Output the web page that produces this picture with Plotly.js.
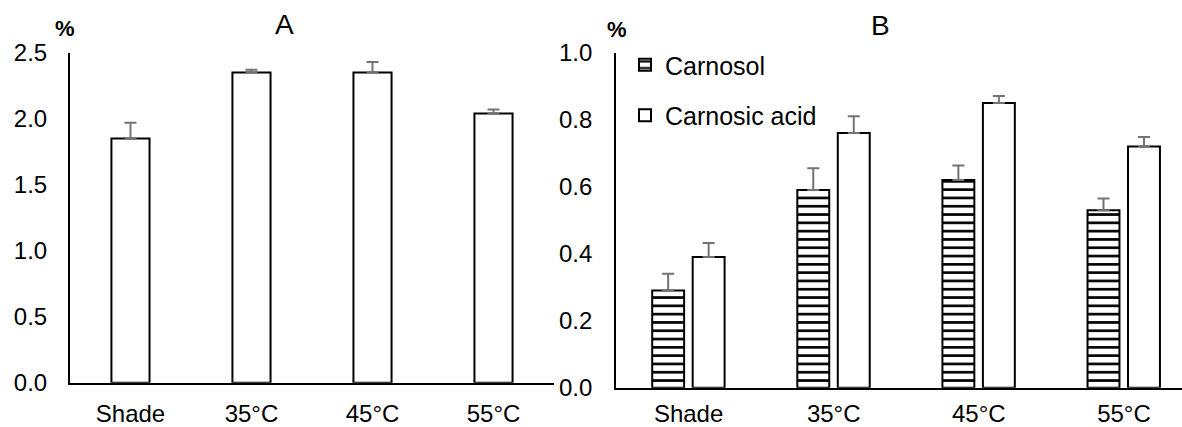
<!DOCTYPE html>
<html>
<head>
<meta charset="utf-8">
<script src="https://cdn.plot.ly/plotly-3.0.1.min.js"></script>
<style>html,body{margin:0;padding:0;background:#fff;}#chart{width:1182px;height:427px;}</style>
</head>
<body>
<div id="chart"></div>
<script>
// ---- data ----
const categories = ["Shade", "35°C", "45°C", "55°C"];
const totalValues = [1.85, 2.35, 2.35, 2.04];
const totalErrors = [0.12, 0.02, 0.08, 0.03];
const carnosolValues = [0.29, 0.59, 0.62, 0.53];
const carnosolErrors = [0.05, 0.065, 0.043, 0.035];
const carnosicValues = [0.39, 0.76, 0.85, 0.72];
const carnosicErrors = [0.042, 0.05, 0.021, 0.028];
const yTicksA = [0, 0.5, 1.0, 1.5, 2.0, 2.5];
const yTicksB = [0, 0.2, 0.4, 0.6, 0.8, 1.0];

const FONT = "Liberation Sans, Arial, sans-serif";
const errStyle = {color: "#737373", thickness: 2, width: 6};
const zeros = n => new Array(n).fill(0);

const traces = [
  {
    type: "bar", x: categories, y: totalValues, xaxis: "x", yaxis: "y",
    width: 0.315, offset: -0.1575, showlegend: false, name: "Total",
    marker: {color: "#ffffff", line: {color: "#000000", width: 2}},
    error_y: Object.assign({type: "data", symmetric: false, array: totalErrors, arrayminus: zeros(4)}, errStyle)
  },
  {
    type: "bar", x: categories, y: carnosolValues, xaxis: "x2", yaxis: "y2",
    width: 0.22, offset: -0.251, name: "Carnosol", legendgroup: "a",
    marker: {color: "#ffffff", line: {color: "#000000", width: 2},
             pattern: {shape: "-", fgcolor: "#000000", bgcolor: "#ffffff", size: 8.3, solidity: 0.32}},
    error_y: Object.assign({type: "data", symmetric: false, array: carnosolErrors, arrayminus: zeros(4)}, errStyle)
  },
  {
    type: "bar", x: categories, y: carnosicValues, xaxis: "x2", yaxis: "y2",
    width: 0.22, offset: 0.028, name: "Carnosic acid", legendgroup: "b",
    marker: {color: "#ffffff", line: {color: "#000000", width: 2}},
    error_y: Object.assign({type: "data", symmetric: false, array: carnosicErrors, arrayminus: zeros(4)}, errStyle)
  }
];

const axisCommon = {
  showgrid: false, zeroline: false, showline: true, linecolor: "#000000", linewidth: 2,
  ticks: "", tickfont: {family: FONT, size: 24, color: "#000000"}, fixedrange: true
};

const layout = {
  width: 1182, height: 427,
  margin: {l: 0, r: 0, t: 0, b: 0},
  paper_bgcolor: "#ffffff", plot_bgcolor: "rgba(0,0,0,0)",
  barmode: "overlay",
  font: {family: FONT, color: "#000000"},
  xaxis: Object.assign({}, axisCommon, {domain: [0.0592, 0.4687], type: "category", range: [-0.5, 3.5], anchor: "y", ticklabelstandoff: 8}),
  yaxis: Object.assign({}, axisCommon, {domain: [0.1037, 0.8766], range: [0, 2.5], tickvals: yTicksA, ticktext: yTicksA.map(v => v.toFixed(1)), anchor: "x", ticklabelstandoff: 16}),
  xaxis2: Object.assign({}, axisCommon, {domain: [0.5212, 1.0], type: "category", range: [-0.5, 3.4], anchor: "y2", ticklabelstandoff: 3}),
  yaxis2: Object.assign({}, axisCommon, {domain: [0.092, 0.8766], range: [0, 1.0], tickvals: yTicksB, ticktext: yTicksB.map(v => v.toFixed(1)), anchor: "x2", ticklabelstandoff: 17}),
  showlegend: true,
  legend: {
    x: 625 / 1182, xanchor: "left", y: 1 - 42 / 427, yanchor: "top",
    bgcolor: "rgba(0,0,0,0)", font: {family: FONT, size: 25, color: "#000000"},
    traceorder: "grouped", tracegroupgap: 15, itemwidth: 30, itemsizing: "constant"
  },
  annotations: [
    {text: "A", x: 284 / 1182, y: 1 - 25 / 427, xanchor: "center", yanchor: "middle", xref: "paper", yref: "paper", showarrow: false, font: {family: FONT, size: 28}},
    {text: "B", x: 880 / 1182, y: 1 - 26 / 427, xanchor: "center", yanchor: "middle", xref: "paper", yref: "paper", showarrow: false, font: {family: FONT, size: 28}},
    {text: "<b>%</b>", x: 65 / 1182, y: 1 - 29 / 427, xanchor: "center", yanchor: "middle", xref: "paper", yref: "paper", showarrow: false, font: {family: FONT, size: 22}},
    {text: "<b>%</b>", x: 617 / 1182, y: 1 - 30 / 427, xanchor: "center", yanchor: "middle", xref: "paper", yref: "paper", showarrow: false, font: {family: FONT, size: 22}}
  ]
};

Plotly.newPlot("chart", traces, layout, {displayModeBar: false, staticPlot: true});
</script>
</body>
</html>
